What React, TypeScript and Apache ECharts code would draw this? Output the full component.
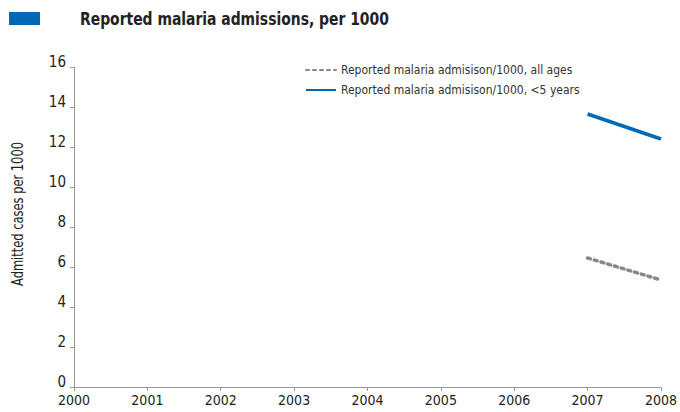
import React, { useEffect, useRef } from "react";
import * as echarts from "echarts";

const years = ["2000", "2001", "2002", "2003", "2004", "2005", "2006", "2007", "2008"];
const allAges = [null, null, null, null, null, null, null, 6.45, 5.35];
const under5 = [null, null, null, null, null, null, null, 13.65, 12.4];
const seriesNames = [
  "Reported malaria admisison/1000, all ages",
  "Reported malaria admisison/1000, <5 years",
];

const FONT = "'DejaVu Sans Condensed', 'Liberation Sans Narrow', 'Roboto', sans-serif";

export default function App() {
  const ref = useRef<HTMLDivElement>(null);
  useEffect(() => {
    document.body.style.margin = "0";
    const chart = echarts.init(ref.current!, null, { renderer: "svg" });
    chart.setOption({
      animation: false,
      textStyle: { fontFamily: FONT },
      graphic: [
        { type: "rect", shape: { x: 9, y: 12, width: 31, height: 13 }, style: { fill: "#0068b4" } },
        {
          type: "text",
          x: 80,
          y: 10,
          scaleX: 0.86,
          style: { text: "Reported malaria admissions, per 1000", fontFamily: FONT, fontSize: 18, fontWeight: "bold", fill: "#222" },
        },
        {
          type: "text",
          x: 18,
          y: 214,
          rotation: Math.PI / 2,
          scaleX: 0.85,
          style: { text: "Admitted cases per 1000", fontFamily: FONT, fontSize: 15, fill: "#222", align: "center", verticalAlign: "middle" },
        },
      ],
      legend: {
        orient: "vertical",
        left: 300,
        top: 59,
        itemWidth: 30,
        itemHeight: 10,
        itemGap: 8,
        itemStyle: { opacity: 0 },
        textStyle: { fontFamily: FONT, fontSize: 12, color: "#333" },
        data: seriesNames,
      },
      grid: { left: 74, right: 19, top: 67, bottom: 25 },
      xAxis: {
        type: "category",
        data: years,
        boundaryGap: false,
        axisLine: { lineStyle: { color: "#999" } },
        axisTick: { lineStyle: { color: "#999" }, length: 4 },
        axisLabel: { color: "#222", fontSize: 14, fontFamily: FONT, margin: 6 },
      },
      yAxis: {
        type: "value",
        min: 0,
        max: 16,
        interval: 2,
        axisLine: { show: true, lineStyle: { color: "#999" } },
        axisTick: { show: true, lineStyle: { color: "#999" }, length: 4 },
        splitLine: { show: false },
        axisLabel: { color: "#222", fontSize: 15, fontFamily: FONT, margin: 8, verticalAlign: "bottom", lineHeight: 10 },
      },
      series: [
        {
          name: seriesNames[0],
          type: "line",
          data: allAges,
          symbol: "none",
          lineStyle: { color: "#888", width: 3.5, type: [3, 4], cap: "round" },
          itemStyle: { color: "#888" },
        },
        {
          name: seriesNames[1],
          type: "line",
          data: under5,
          symbol: "none",
          lineStyle: { color: "#0068b4", width: 3.5 },
          itemStyle: { color: "#0068b4" },
        },
      ],
    });
    return () => chart.dispose();
  }, []);
  return <div ref={ref} style={{ width: 680, height: 412 }} />;
}
